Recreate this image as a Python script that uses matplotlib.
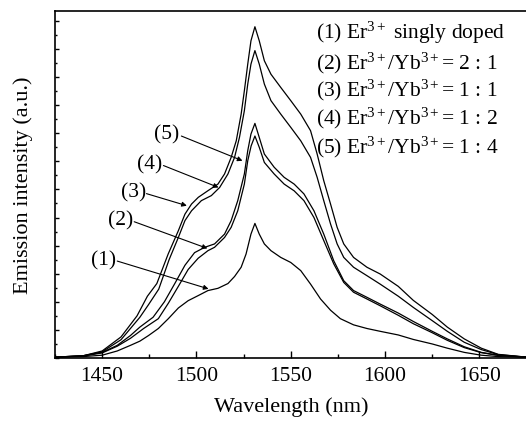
import matplotlib
matplotlib.use("Agg")
import matplotlib.pyplot as plt
from matplotlib.ticker import MultipleLocator

plt.rcParams['font.family'] = ['Liberation Serif', 'DejaVu Serif']
plt.rcParams['mathtext.fontset'] = 'custom'
plt.rcParams['mathtext.rm'] = 'Liberation Serif'
plt.rcParams['mathtext.it'] = 'Liberation Serif:italic'

# emission spectra (wavelength nm, intensity a.u.)
wl_1 = [1425, 1440, 1450, 1458, 1465, 1470, 1474.6, 1479.8, 1485.1, 1490.4, 1495.6, 1500.9, 1506.1,
        1511.4, 1516.7, 1520.2, 1523.7, 1526.3, 1528.9, 1531, 1533.3, 1536, 1539.5, 1544.7, 1550,
        1555.3, 1560.5, 1565.8, 1571.1, 1576.3, 1583.3, 1590.4, 1597.4, 1607, 1615, 1625, 1633,
        1642, 1651, 1660, 1675]
int_1 = [0.03, 0.05, 0.1, 0.25, 0.45, 0.6, 0.8, 1.05, 1.4, 1.78, 2.04, 2.22, 2.4,
         2.48, 2.65, 2.9, 3.23, 3.7, 4.41, 4.79, 4.41, 4.06, 3.82, 3.58, 3.4,
         3.11, 2.63, 2.1, 1.7, 1.4, 1.18, 1.05, 0.95, 0.82, 0.66, 0.5, 0.35,
         0.2, 0.1, 0.05, 0.03]

wl_2 = [1425, 1440, 1450, 1458, 1465, 1472, 1479.8, 1485.1, 1490.4, 1495.6, 1500.9, 1506.1, 1509.6,
        1514.9, 1518.4, 1521.9, 1525.4, 1527.2, 1529, 1531, 1533.3, 1536, 1541.2, 1546.5, 1551.8,
        1557, 1562.3, 1567.5, 1572.8, 1578.1, 1583.3, 1590.4, 1597.4, 1607, 1615, 1625, 1633,
        1642, 1651, 1660, 1675]
int_2 = [0.03, 0.07, 0.18, 0.42, 0.7, 1.05, 1.4, 1.95, 2.55, 3.15, 3.55, 3.82, 3.94,
         4.29, 4.65, 5.24, 6.19, 7.02, 7.55, 7.9, 7.5, 6.96, 6.55, 6.19, 5.95,
         5.6, 5.0, 4.18, 3.35, 2.69, 2.34, 2.1, 1.86, 1.52, 1.22, 0.9, 0.63,
         0.37, 0.19, 0.09, 0.03]

wl_3 = [1425, 1440, 1450, 1458, 1465, 1470, 1477, 1483, 1488.6, 1493.9, 1499, 1504.4, 1509.6,
        1514.9, 1518.4, 1521.9, 1525.4, 1527.2, 1528.9, 1531, 1533.3, 1536, 1541.2, 1546.5, 1551.8,
        1557, 1562.3, 1567.5, 1572.8, 1578.1, 1583.3, 1590.4, 1597.4, 1607, 1615, 1625, 1633,
        1642, 1651, 1660, 1675]
int_3 = [0.03, 0.08, 0.2, 0.45, 0.8, 1.1, 1.45, 2.0, 2.66, 3.3, 3.75, 3.94, 4.06,
         4.41, 4.89, 5.6, 6.55, 7.38, 7.97, 8.35, 7.85, 7.26, 6.79, 6.43, 6.19,
         5.84, 5.24, 4.41, 3.46, 2.75, 2.4, 2.16, 1.92, 1.6, 1.3, 0.95, 0.68,
         0.4, 0.2, 0.1, 0.03]

wl_4 = [1425, 1440, 1450, 1460, 1470, 1474.6, 1480, 1485.5, 1490.4, 1493.9, 1497.4, 1502.6, 1507.9,
        1512.3, 1516.7, 1520.2, 1522.8, 1525.4, 1527.2, 1528.9, 1531, 1533.3, 1536, 1539.5, 1544.7,
        1550, 1555.3, 1560.5, 1564, 1567.5, 1571.1, 1574.6, 1578.1, 1583.3, 1590.4, 1597.4, 1607,
        1615, 1625, 1633, 1642, 1651, 1660, 1675]
int_4 = [0.03, 0.08, 0.22, 0.65, 1.45, 1.9, 2.45, 3.5, 4.29, 4.89, 5.24, 5.6, 5.78,
         6.07, 6.55, 7.14, 7.85, 8.8, 9.75, 10.46, 10.94, 10.46, 9.75, 9.16, 8.68,
         8.21, 7.73, 7.14, 6.43, 5.6, 4.77, 4.06, 3.58, 3.23, 2.93, 2.63, 2.2,
         1.8, 1.33, 0.95, 0.56, 0.3, 0.12, 0.03]

wl_5 = [1425, 1440, 1450, 1460, 1468.5, 1474, 1479, 1485, 1490.4, 1493.9, 1497.4, 1501, 1506,
        1511.4, 1514.9, 1518.4, 1521.1, 1523.7, 1525.4, 1527.2, 1528.9, 1531, 1533.3, 1536, 1539.5,
        1544.7, 1550, 1555.3, 1560.5, 1564, 1567.5, 1571.1, 1574.6, 1578.1, 1583.3, 1590.4, 1597.4,
        1607, 1615, 1625, 1633, 1642, 1651, 1660, 1675]
int_5 = [0.03, 0.08, 0.25, 0.75, 1.5, 2.2, 2.65, 3.7, 4.53, 5.12, 5.48, 5.72, 5.95,
         6.19, 6.55, 7.14, 7.73, 8.68, 9.51, 10.46, 11.29, 11.79, 11.29, 10.58, 10.1,
         9.63, 9.16, 8.68, 8.09, 7.26, 6.31, 5.48, 4.65, 4.06, 3.58, 3.23, 2.99,
         2.55, 2.05, 1.55, 1.1, 0.68, 0.35, 0.13, 0.03]

legend_lines = [r'(1) Er$^{3+}$ singly doped',
                r'(2) Er$^{3+}$/Yb$^{3+}$= 2 : 1',
                r'(3) Er$^{3+}$/Yb$^{3+}$= 1 : 1',
                r'(4) Er$^{3+}$/Yb$^{3+}$= 1 : 2',
                r'(5) Er$^{3+}$/Yb$^{3+}$= 1 : 4']

# label text position, arrow start, arrow tip
arrow_labels = [('(1)', (1451, 3.5), (1458, 3.45), (1506.4, 2.46)),
                ('(2)', (1459.9, 4.91), (1467, 4.85), (1505.8, 3.9)),
                ('(3)', (1466.6, 5.93), (1473.5, 5.85), (1494.9, 5.42)),
                ('(4)', (1475.4, 6.9), (1482.5, 6.85), (1511.7, 6.07)),
                ('(5)', (1484.3, 7.97), (1492, 7.9), (1524.4, 7.02))]

fig = plt.figure(figsize=(5.26, 4.31), dpi=100)
ax = fig.add_axes([55 / 526, 72 / 431, 471.5 / 526, 347 / 431])

for wl, inten in [(wl_1, int_1), (wl_2, int_2), (wl_3, int_3), (wl_4, int_4), (wl_5, int_5)]:
    ax.plot(wl, inten, color='black', lw=0.9)

for lab, pos, start, tip in arrow_labels:
    ax.text(pos[0], pos[1], lab, fontsize=15.5, ha='center', va='center')
    ax.annotate('', xy=tip, xytext=start,
                arrowprops=dict(arrowstyle='-|>', color='black', lw=0.8, mutation_scale=7,
                                shrinkA=0, shrinkB=0))

y_legend = [11.6, 10.53, 9.57, 8.58, 7.54]
for txt, yy in zip(legend_lines, y_legend):
    ax.text(1563.5, yy, txt, fontsize=15.5, ha='left', va='center')

ax.set_xlim(1425, 1675)
ax.set_ylim(0, 12.35)
ax.xaxis.set_major_locator(MultipleLocator(50))
ax.xaxis.set_minor_locator(MultipleLocator(25))
ax.yaxis.set_major_locator(MultipleLocator(1))
ax.yaxis.set_minor_locator(MultipleLocator(0.5))
ax.set_yticklabels([])
ax.tick_params(axis='x', which='major', direction='in', length=5, width=1, labelsize=15.5, pad=6)
ax.tick_params(axis='x', which='minor', direction='in', length=3, width=1)
ax.tick_params(axis='y', which='major', direction='in', length=3, width=1)
ax.tick_params(axis='y', which='minor', direction='in', length=1.5, width=1)
for sp in ax.spines.values():
    sp.set_linewidth(1.2)
ax.spines['right'].set_visible(False)

ax.set_xlabel('Wavelength (nm)', fontsize=16, labelpad=8)
ax.set_ylabel('Emission intensity (a.u.)', fontsize=16, labelpad=12)

fig.savefig('out.png', dpi=100)
